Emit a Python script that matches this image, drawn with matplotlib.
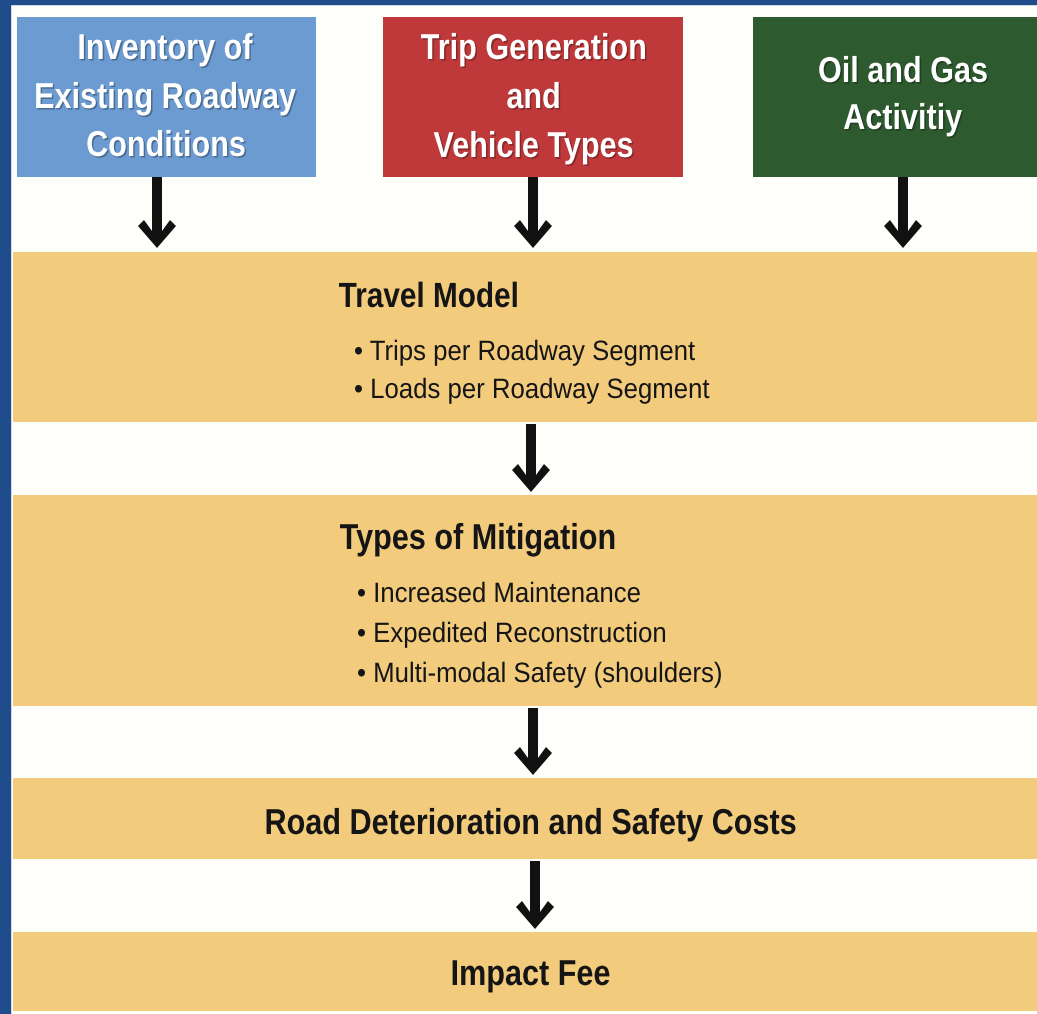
import matplotlib
matplotlib.use('Agg')
import matplotlib.pyplot as plt
from matplotlib.patches import Rectangle, Polygon, PathPatch
from matplotlib.textpath import TextPath
from matplotlib.font_manager import FontProperties
from matplotlib.transforms import Affine2D

# inputs along the top
input_labels = [['Inventory of', 'Existing Roadway', 'Conditions'],
                ['Trip Generation', 'and', 'Vehicle Types'],
                ['Oil and Gas', 'Activitiy']]

# stages down the page
stage_titles = ['Travel Model', 'Types of Mitigation',
                'Road Deterioration and Safety Costs', 'Impact Fee']
stage_bullets = [['Trips per Roadway Segment', 'Loads per Roadway Segment'],
                 ['Increased Maintenance', 'Expedited Reconstruction',
                  'Multi-modal Safety (shoulders)'],
                 [],
                 []]

W, H = 1037, 1014
fig = plt.figure(figsize=(W / 100, H / 100), dpi=100)
ax = fig.add_axes([0, 0, 1, 1])
ax.set_xlim(0, W)
ax.set_ylim(H, 0)
ax.axis('off')
fig.patch.set_facecolor('#fefefb')

BOLD = FontProperties(family='Liberation Sans', weight='bold')
REG = FontProperties(family='Liberation Sans')


def text(x, base, s, size, prop, color, ha='left', shadow=False, sx=0.85):
    # text drawn as a path, squeezed sideways for the narrow look
    tp = TextPath((0, 0), s, size=size, prop=prop)
    ext = tp.get_extents()
    w = (ext.x1 - ext.x0) * sx
    if ha == 'center':
        x0 = x - w / 2 - ext.x0 * sx
    else:
        x0 = x - ext.x0 * sx
    if shadow:
        tr = Affine2D().scale(sx, -1).translate(x0 + 1.5, base + 1.5) + ax.transData
        ax.add_patch(PathPatch(tp, transform=tr, color='#000000', alpha=0.3, lw=0))
    tr = Affine2D().scale(sx, -1).translate(x0, base) + ax.transData
    ax.add_patch(PathPatch(tp, transform=tr, color=color, lw=0))


border = '#1f4c8a'
ax.add_patch(Rectangle((0, 0), W, 4, color=border))
ax.add_patch(Rectangle((0, 0), 10, H, color=border))

box_colors = ['#6b9bd1', '#c0393a', '#2d5a2e']
box_x = [(17, 316), (383, 683), (753, 1040)]
text_cx = [166, 533, 903]
baselines = [[59, 108, 156], [59, 108, 157], [82, 129]]
arrow_x = [157, 533, 903]


def arrow(cx, top, tip):
    pts = [(cx - 5, top), (cx + 5, top), (cx + 5, tip - 17), (cx + 13, tip - 28),
           (cx + 19, tip - 22), (cx, tip), (cx - 19, tip - 22), (cx - 13, tip - 28),
           (cx - 5, tip - 17)]
    ax.add_patch(Polygon(pts, closed=True, color='#111111', lw=0))


for i, label in enumerate(input_labels):
    x0, x1 = box_x[i]
    ax.add_patch(Rectangle((x0, 17), x1 - x0, 160, color=box_colors[i], lw=0))
    for line, b in zip(label, baselines[i]):
        text(text_cx[i], b, line, 36, BOLD, 'white', ha='center', shadow=True)
    arrow(arrow_x[i], 177, 248)

bands = [(252, 422), (495, 706), (778, 859), (932, 1011)]
orange = '#f3cb7d'
for i, (y0, y1) in enumerate(bands):
    ax.add_patch(Rectangle((13, y0), W - 13, y1 - y0, color=orange, lw=0))
    if i < len(bands) - 1:
        arrow([531, 533, 535][i], y1 + 2, bands[i + 1][0] - 3)

title_pos = [(339, 307, 'left', 35), (340, 549, 'left', 36),
             (531, 834, 'center', 36), (531, 985, 'center', 36)]
bullet_start = [(355, 360, 38), (358, 602, 40)]
ink = '#151515'

for i, title in enumerate(stage_titles):
    x, y, ha, fs = title_pos[i]
    text(x, y, title, fs, BOLD, ink, ha=ha)
    if stage_bullets[i]:
        bx, by, step = bullet_start[i]
        for j, b in enumerate(stage_bullets[i]):
            text(bx, by + j * step, '\u2022 ' + b, 28, REG, ink, sx=0.92)

fig.savefig('out.png', dpi=100, facecolor=fig.get_facecolor())
